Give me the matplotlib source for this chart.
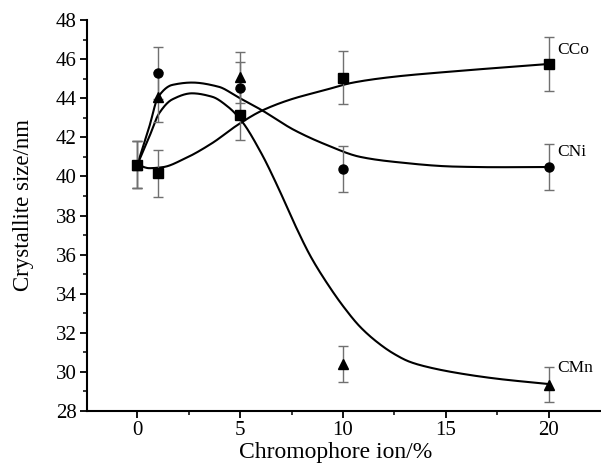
import matplotlib
matplotlib.use('Agg')
import matplotlib.pyplot as plt
import numpy as np

plt.rcParams['font.family'] = ['Liberation Serif', 'DejaVu Serif']

# measured points
x_pts = [0, 1, 5, 10, 20]
cco = [40.6, 40.15, 43.15, 45.05, 45.75]
cco_err = [1.2, 1.2, 1.3, 1.35, 1.37]
cni = [40.6, 45.28, 44.52, 40.38, 40.48]
cni_err = [1.2, 1.33, 1.35, 1.2, 1.2]
cmn = [40.6, 44.06, 45.08, 30.4, 29.35]
cmn_err = [1.2, 1.3, 1.3, 0.9, 0.9]

# fitted curves
cco_fx = [0, 0.58, 1.22, 2.34, 3.62, 4.9, 6.03, 7.5, 9.07, 10.5, 12.5, 15, 17.5, 20]
cco_fy = [40.6, 40.42, 40.47, 40.93, 41.69, 42.65, 43.35, 43.95, 44.4, 44.8, 45.1, 45.34, 45.55, 45.75]
cni_fx = [0, 0.58, 1.02, 1.7, 2.66, 3.94, 4.9, 6.03, 7.63, 9.23, 10.83, 12.44, 15.48, 17.5, 20]
cni_fy = [40.6, 42.54, 44.08, 44.68, 44.8, 44.59, 44.05, 43.4, 42.37, 41.6, 41.0, 40.75, 40.5, 40.47, 40.48]
cmn_fx = [0, 0.58, 1.06, 1.7, 2.66, 3.62, 4.42, 5.06, 6.03, 6.83, 7.63, 8.43, 9.23, 10.03,
          10.83, 11.63, 12.44, 13.24, 14.04, 15.48, 17.5, 20]
cmn_fy = [40.6, 42.03, 43.23, 43.94, 44.25, 44.08, 43.55, 42.85, 41.18, 39.47, 37.6, 35.9, 34.53, 33.33,
          32.31, 31.55, 30.95, 30.52, 30.27, 29.96, 29.65, 29.38]

labels = ['CCo', 'CNi', 'CMn']


def smooth(xk, yk, n=600):
    # monotone cubic (PCHIP) through the knots
    xk = np.asarray(xk, float)
    yk = np.asarray(yk, float)
    h = np.diff(xk)
    d = np.diff(yk) / h
    m = np.zeros_like(yk)
    for i in range(1, len(xk) - 1):
        if d[i - 1] * d[i] > 0:
            w1 = 2 * h[i] + h[i - 1]
            w2 = h[i] + 2 * h[i - 1]
            m[i] = (w1 + w2) / (w1 / d[i - 1] + w2 / d[i])
    m[0] = d[0]
    m[-1] = d[-1]
    xs = np.linspace(xk[0], xk[-1], n)
    idx = np.clip(np.searchsorted(xk, xs) - 1, 0, len(xk) - 2)
    t = (xs - xk[idx]) / h[idx]
    h00 = 2 * t ** 3 - 3 * t ** 2 + 1
    h10 = t ** 3 - 2 * t ** 2 + t
    h01 = -2 * t ** 3 + 3 * t ** 2
    h11 = t ** 3 - t ** 2
    ys = h00 * yk[idx] + h10 * h[idx] * m[idx] + h01 * yk[idx + 1] + h11 * h[idx] * m[idx + 1]
    return xs, ys


fig = plt.figure(figsize=(6.01, 4.70), dpi=100)
ax = fig.add_axes([87 / 601, 1 - 411 / 470, 1 - 87 / 601, (411 - 20) / 470])

for fx, fy in [(cco_fx, cco_fy), (cni_fx, cni_fy), (cmn_fx, cmn_fy)]:
    xs, ys = smooth(fx, fy)
    ax.plot(xs, ys, color='black', lw=1.5, zorder=3)

for yv, ev, mk in [(cco, cco_err, 's'), (cni, cni_err, 'o'), (cmn, cmn_err, '^')]:
    ax.errorbar(x_pts, yv, yerr=ev, fmt=mk, color='black', ms=6.5,
                ecolor='#707070', elinewidth=1, capsize=3.5, capthick=1, zorder=4)

ax.text(20.4, 46.47, labels[0], fontsize=12.5, va='center')
ax.text(20.4, 41.25, labels[1], fontsize=12.5, va='center')
ax.text(20.4, 30.2, labels[2], fontsize=12.5, va='center')

ax.set_xlim(-2.45, 22.55)
ax.set_ylim(28, 48)
ax.set_xticks([0, 5, 10, 15, 20])
ax.set_xticks([2.5, 7.5, 12.5, 17.5], minor=True)
ax.set_yticks(range(28, 49, 2))
ax.set_yticks(range(29, 48, 2), minor=True)

for s in ['top', 'right']:
    ax.spines[s].set_visible(False)
for s in ['left', 'bottom']:
    ax.spines[s].set_linewidth(1.5)
ax.tick_params(which='major', length=5, width=1.3, labelsize=15, pad=2.5)
ax.tick_params(which='minor', length=3, width=1.1)

ax.set_xlabel('Chromophore ion/%', fontsize=17)
ax.set_ylabel('Crystallite size/nm', fontsize=16.5)
ax.xaxis.set_label_coords((336 - 87) / (601 - 87), -(442 - 411) / 391, transform=ax.transAxes)
ax.yaxis.set_label_coords(-(87 - 34) / 514, (411 - 205) / 391, transform=ax.transAxes)

fig.savefig('out.png', dpi=100)
